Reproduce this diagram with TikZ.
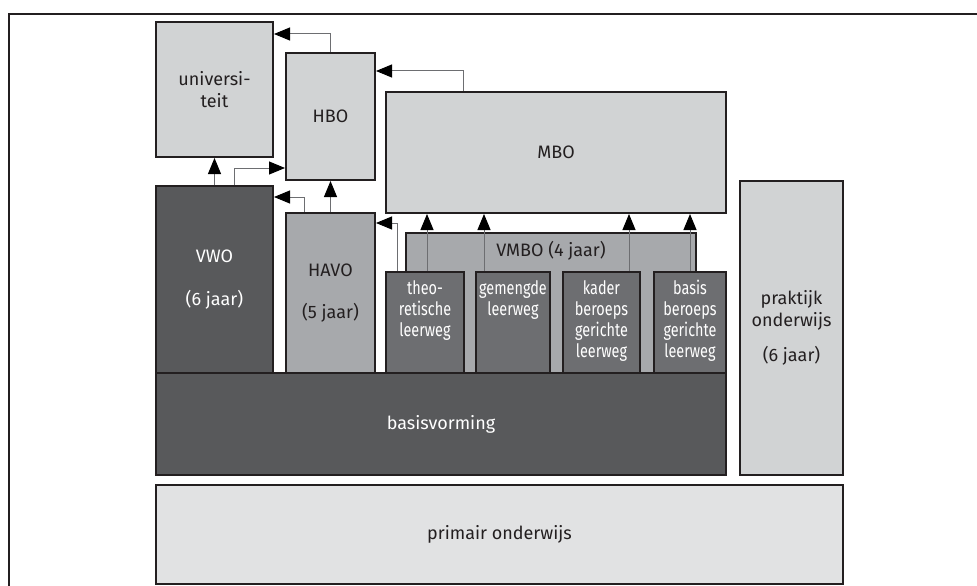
\documentclass[tikz,border=0pt]{standalone}
\usepackage{fontspec}
\setmainfont{Fira Sans}
\newfontfamily\narrowfont[FakeStretch=0.78]{Fira Sans}
\usetikzlibrary{arrows.meta}
\definecolor{boxline}{HTML}{231F20}
\definecolor{lightgrey}{HTML}{D1D3D4}
\definecolor{palegrey}{HTML}{E1E2E3}
\definecolor{midgrey}{HTML}{A7A9AC}
\definecolor{darkgrey}{HTML}{58595B}
\definecolor{slategrey}{HTML}{6D6E71}
\definecolor{linkgrey}{HTML}{6D6E71}

\tikzset{
  box/.style={draw=boxline,line width=2pt,inner sep=0pt,align=center,text=boxline},
  darkbox/.style={box,text=white},
  trackbox/.style={darkbox,fill=slategrey,minimum height=102,anchor=north},
  tracklabel/.style={anchor=north,yshift=-6pt,align=center,text=white,
    font=\narrowfont\fontsize{18.5}{21}\selectfont},
  route/.style={draw=linkgrey,line width=1pt,
    -{Triangle[length=16pt,width=13pt,color=black]}},
}

\begin{document}
\begin{tikzpicture}[x=1pt,y=-1pt,font=\fontsize{18}{21.5}\selectfont]
\useasboundingbox (0,0) rectangle (977,586);
\draw[boxline,line width=1.5pt] (9,586) -- (9,14) -- (977,14);

% hoger onderwijs
\node[box,fill=lightgrey,minimum width=117,minimum height=135] (uni) at (214.5,89.5) {universi-\\teit};
\node[box,fill=lightgrey,minimum width=89,minimum height=127] (hbo) at (330.5,116.5) {HBO};
\node[box,fill=lightgrey,minimum width=340,minimum height=121] (mbo) at (556,152.5) {MBO};

% voortgezet onderwijs
\node[darkbox,fill=darkgrey,minimum width=117,minimum height=187] (vwo) at (214.5,279.5) {VWO\\[21pt](6 jaar)};
\node[box,fill=midgrey,minimum width=89,minimum height=160] (havo) at (330.5,293) {HAVO\\[21pt](5 jaar)};
\node[box,fill=midgrey,minimum width=290,minimum height=140] (vmbo) at (551,303) {};
\node[text=boxline] (vmbo-t) at (551,251) {VMBO (4 jaar)};
\node[trackbox,minimum width=78,label={[tracklabel]north:theo-\\retische\\leerweg}] (theo) at (425,271) {};
\node[trackbox,minimum width=74,label={[tracklabel]north:gemengde\\leerweg}] (gem) at (513,271) {};
\node[trackbox,minimum width=77,label={[tracklabel]north:kader\\beroeps\\gerichte\\leerweg}] (kader) at (601.5,271) {};
\node[trackbox,minimum width=72,label={[tracklabel]north:basis\\beroeps\\gerichte\\leerweg}] (basis) at (690,271) {};
\node[darkbox,fill=darkgrey,minimum width=570,minimum height=102] (basisv) at (441,424) {basisvorming};
\node[box,fill=lightgrey,minimum width=103,minimum height=294] (prak) at (791.5,328) {praktijk\\onderwijs\\[14pt](6 jaar)};

% primair onderwijs
\node[box,fill=palegrey,minimum width=687,minimum height=99] (prim) at (499.5,534.5) {primair onderwijs};

% doorstroom
\draw[route] (hbo.north) |- ([yshift=-13pt]uni.north east);
\draw[route] ([xshift=78pt]mbo.north west) |- ([yshift=-19pt]hbo.north east);
\draw[route] (vwo.north) -- (uni.south);
\draw[route] ([xshift=20pt]vwo.north) |- ([yshift=13pt]hbo.south west);
\draw[route] ([xshift=19pt]havo.north west) |- ([yshift=-12pt]vwo.north east);
\draw[route] (havo.north) -- (hbo.south);
\draw[route] ([xshift=12pt]theo.north west) |- ([yshift=-11pt]havo.north east);
\draw[route] ([xshift=2pt]theo.north) -- ([xshift=2pt]theo.north |- mbo.south);
\draw[route] ([xshift=9pt]gem.north west) -- ([xshift=9pt]gem.north west |- mbo.south);
\draw[route] ([xshift=-12pt]kader.north east) -- ([xshift=-12pt]kader.north east |- mbo.south);
\draw[route] (basis.north) -- (basis.north |- mbo.south);
\end{tikzpicture}
\end{document}
